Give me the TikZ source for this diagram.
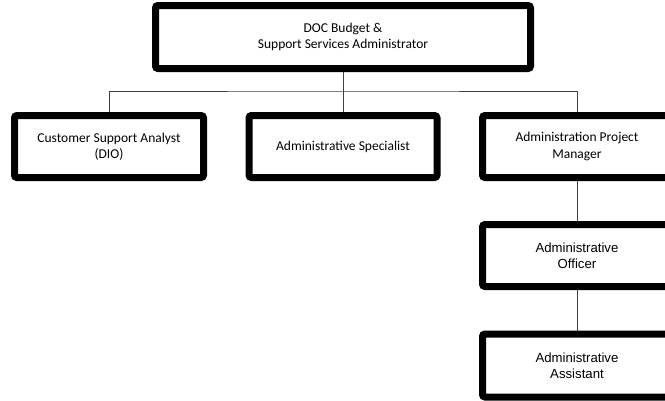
\documentclass[tikz,border=0pt]{standalone}
\usepackage{fontspec}
\newfontfamily\calfont{Carlito}
\newfontfamily\arfont{Liberation Sans}
\begin{document}
\begin{tikzpicture}[x=1pt,y=-1pt,
  orgbox/.style={draw=black,line width=7pt,rounded corners=2.5pt,fill=white,
    align=center,inner sep=0pt,outer sep=3.5pt},
  calbox/.style={orgbox,font=\calfont\fontsize{13.5}{16.5}\selectfont},
  arbox/.style={orgbox,font=\arfont\fontsize{13.2}{16}\selectfont},
  conn/.style={draw=black!75,line width=1pt}]
\useasboundingbox (0,0) rectangle (665,400);
\clip (0,0) rectangle (665,400);
\node[calbox,minimum width=375pt,minimum height=63pt] (top) at (343,37) {DOC Budget \&\\Support Services Administrator};
\node[calbox,minimum width=189pt,minimum height=62pt] (csa) at (109,146.5) {Customer Support Analyst\\(DIO)};
\node[calbox,minimum width=188pt,minimum height=62pt] (spec) at (343,146.5) {Administrative Specialist};
\node[calbox,minimum width=189pt,minimum height=62pt] (apm) at (577,146.5) {Administration Project\\Manager};
\node[arbox,minimum width=189pt,minimum height=62pt] (off) at (577,255.5) {Administrative\\Officer};
\node[arbox,minimum width=189pt,minimum height=63pt] (asst) at (577,365.5) {Administrative\\Assistant};
\coordinate (j) at (343,91);
\draw[conn] (top.south) -- (j);
\draw[conn] (csa.north) |- (j) -| (apm.north);
\draw[conn] (j) -- (spec.north);
\draw[conn] (apm.south) -- (off.north);
\draw[conn] (off.south) -- (asst.north);
\end{tikzpicture}
\end{document}
